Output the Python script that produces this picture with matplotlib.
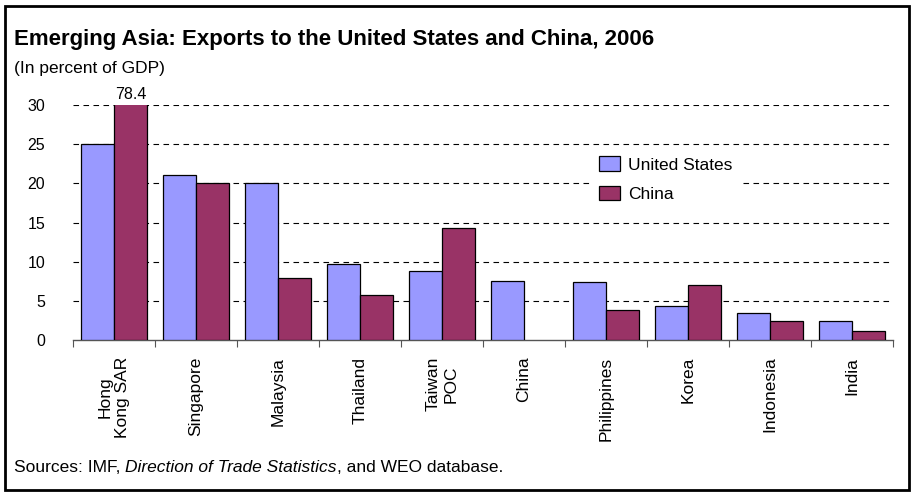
import matplotlib
matplotlib.use("Agg")
import matplotlib.pyplot as plt
import numpy as np
from matplotlib.patches import Rectangle

plt.rcParams['font.family'] = ['Liberation Sans', 'DejaVu Sans']

categories = ["Hong\nKong SAR", "Singapore", "Malaysia", "Thailand", "Taiwan\nPOC",
              "China", "Philippines", "Korea", "Indonesia", "India"]
us_values = [25.0, 21.0, 20.1, 9.7, 8.8, 7.6, 7.4, 4.4, 3.5, 2.4]
china_values = [78.4, 20.1, 7.9, 5.8, 14.3, 0.0, 3.8, 7.0, 2.4, 1.2]
y_ticks = [0, 5, 10, 15, 20, 25, 30]

us_color = "#9999FF"
china_color = "#993366"

fig = plt.figure(figsize=(9.13, 4.95), dpi=100)
ax = fig.add_axes([0.080, 0.313, 0.898, 0.475])

x = np.arange(len(categories))
w = 0.4
ax.bar(x - w/2, us_values, width=w, color=us_color, edgecolor="black", linewidth=0.9,
       label="United States", zorder=3)
cb = ax.bar(x + w/2, china_values, width=w, color=china_color, edgecolor="black", linewidth=0.9,
            label="China", zorder=3)
for rect, v in zip(cb, china_values):
    if v == 0:
        rect.set_visible(False)

ax.set_ylim(0, 30)
ax.set_xlim(-0.5, len(categories) - 0.5)
ax.set_yticks(y_ticks)
ax.tick_params(axis='y', length=0, labelsize=11.5, pad=20)
for yv in y_ticks[1:]:
    ax.axhline(yv, color="black", linestyle=(0, (5, 4)), linewidth=0.8, zorder=1)

# value label for clipped bar
ax.text(x[0] + w/2, 30.4, f"{china_values[0]:.1f}", ha="center", va="bottom", fontsize=11.5)

ax.set_xticks(x)
ax.set_xticklabels(categories, rotation=90, fontsize=12.5, va="top", ha="center")
ax.tick_params(axis='x', which='major', length=0, pad=12)
ax.set_xticks(np.arange(-0.5, len(categories), 1), minor=True)
ax.tick_params(axis='x', which='minor', length=5, width=0.8, color="#555555")

for s in ["top", "right", "left"]:
    ax.spines[s].set_visible(False)
ax.spines["bottom"].set_color("#555555")
ax.spines["bottom"].set_linewidth(1.0)

leg = ax.legend(loc="upper left", bbox_to_anchor=(0.62, 0.855), frameon=True, fontsize=12.5,
                handlelength=1.2, handleheight=0.9, handletextpad=0.5, labelspacing=0.75,
                borderpad=0.5, fancybox=False)
leg.get_frame().set_edgecolor("white")
leg.get_frame().set_facecolor("white")
leg.get_frame().set_alpha(1)
leg.set_zorder(5)

fig.text(14/913, 1 - 40/495, "Emerging Asia: Exports to the United States and China, 2006",
         fontsize=16, fontweight="bold", va="center", ha="left")
fig.text(14/913, 1 - 68/495, "(In percent of GDP)", fontsize=12.5, va="center", ha="left")

t1 = fig.text(14/913, 1 - 468/495, "Sources: IMF, ", fontsize=12.5, va="center", ha="left")
t2 = fig.add_artist(plt.Annotation("Direction of Trade Statistics", xy=(1, 0), xycoords=t1,
                                   va="bottom", ha="left", fontsize=12.5, style="italic",
                                   annotation_clip=False))
fig.add_artist(plt.Annotation(", and WEO database.", xy=(1, 0), xycoords=t2, va="bottom",
                              ha="left", fontsize=12.5, annotation_clip=False))

fig.patches.append(Rectangle((5/913, 1 - 490/495), 904/913, 484/495, transform=fig.transFigure,
                             fill=False, edgecolor="black", linewidth=2))

fig.savefig("out.png", dpi=100)
